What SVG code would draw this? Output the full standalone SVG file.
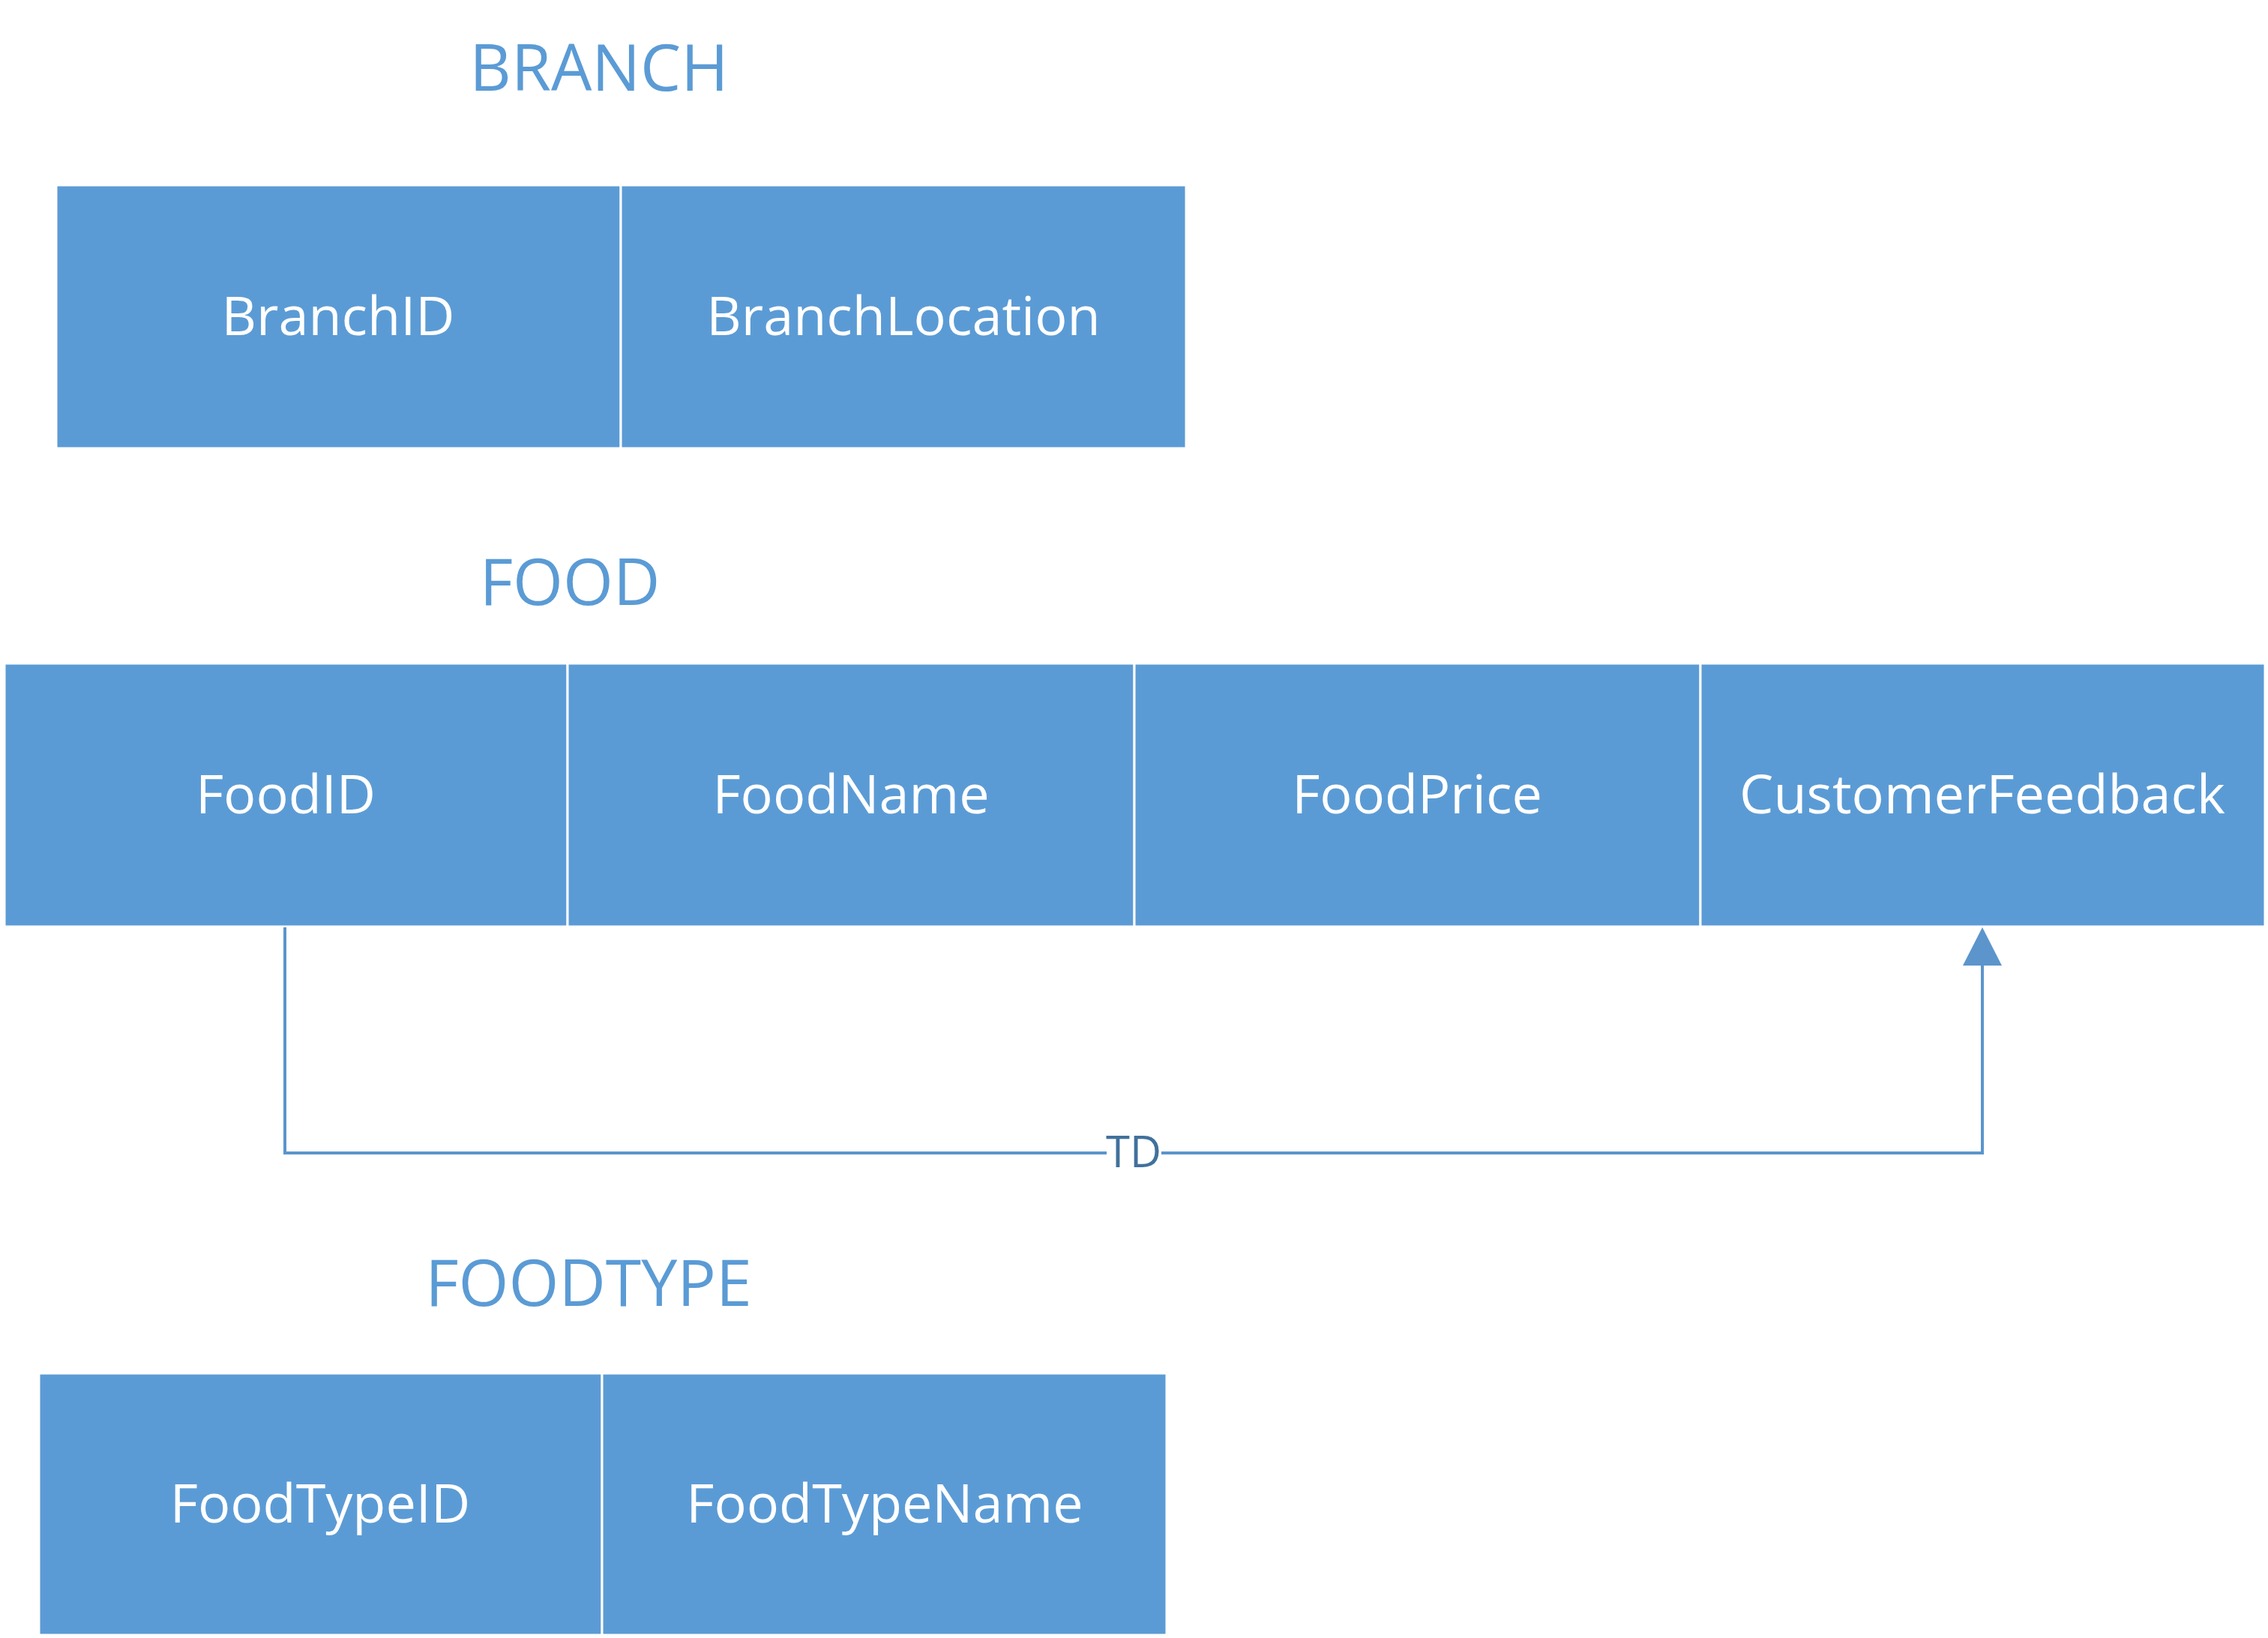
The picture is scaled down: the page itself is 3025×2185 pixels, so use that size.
<svg xmlns="http://www.w3.org/2000/svg" width="3025" height="2185" viewBox="0 0 3025 2185">
<style>
.cell{fill:#5B9BD5;stroke:#FFFFFF;stroke-width:3}
.ct{font-family:"Open Sans","Liberation Sans",sans-serif;font-size:72px;fill:#FFFFFF;text-anchor:middle}
.title{font-family:"Open Sans","Liberation Sans",sans-serif;font-size:86px;fill:#5B9BD5;text-anchor:middle}
.conn{fill:none;stroke:#5B95CC;stroke-width:4}
.lbl{font-family:"Open Sans","Liberation Sans",sans-serif;font-size:58px;fill:#41719C;text-anchor:middle}
</style>
<defs>
<marker id="arr" markerUnits="userSpaceOnUse" markerWidth="52" markerHeight="52" refX="26" refY="0" viewBox="0 0 52 52" orient="auto-start-reverse" overflow="visible">
<path d="M0,0 L26,-51 L52,0 Z" fill="#5B95CC" transform="translate(0,0)"/>
</marker>
</defs>
<rect width="3025" height="2185" fill="#FFFFFF"/>
<g id="branch">
<text class="title" x="799" y="121">BRANCH</text>
<g id="branch-BranchID"><rect class="cell" x="75" y="247" width="753" height="351"/><text class="ct" x="451" y="447">BranchID</text></g>
<g id="branch-BranchLocation"><rect class="cell" x="828" y="247" width="754" height="351"/><text class="ct" x="1205" y="447">BranchLocation</text></g>
</g>
<g id="food">
<text class="title" x="760" y="807">FOOD</text>
<g id="food-FoodID"><rect class="cell" x="6" y="885" width="751" height="351"/><text class="ct" x="381" y="1085">FoodID</text></g>
<g id="food-FoodName"><rect class="cell" x="757" y="885" width="756" height="351"/><text class="ct" x="1135" y="1085">FoodName</text></g>
<g id="food-FoodPrice"><rect class="cell" x="1513" y="885" width="755" height="351"/><text class="ct" x="1890" y="1085">FoodPrice</text></g>
<g id="food-CustomerFeedback"><rect class="cell" x="2268" y="885" width="753" height="351"/><text class="ct" x="2644" y="1085">CustomerFeedback</text></g>
</g>
<g id="foodtype">
<text class="title" x="785" y="1742">FOODTYPE</text>
<g id="foodtype-FoodTypeID"><rect class="cell" x="52" y="1832" width="751" height="349"/><text class="ct" x="427" y="2031">FoodTypeID</text></g>
<g id="foodtype-FoodTypeName"><rect class="cell" x="803" y="1832" width="753" height="349"/><text class="ct" x="1180" y="2031">FoodTypeName</text></g>
</g>
<g id="connectors">
<path class="conn" d="M380,1237 L380,1538 L2644,1538 L2644,1288"/>
<path d="M2618,1288 L2644,1237 L2670,1288 Z" fill="#5B95CC"/>
<rect x="1476" y="1505" width="73" height="60" fill="#FFFFFF"/>
<text class="lbl" x="1512" y="1557">TD</text>
</g>
</svg>
